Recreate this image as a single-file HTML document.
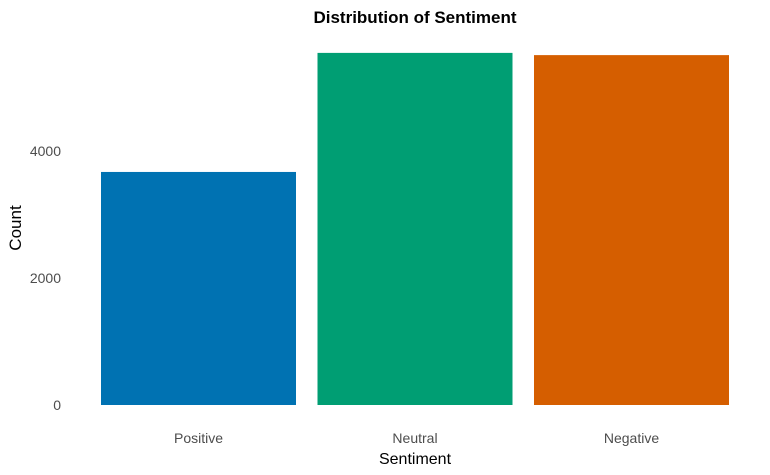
<!DOCTYPE html>
<html><head><meta charset="utf-8">
<style>
html,body{margin:0;padding:0;background:#fff;}
svg{display:block;font-family:"Liberation Sans",Arial,sans-serif;}
</style></head>
<body>
<svg id="chart" width="770" height="475" viewBox="0 0 770 475">
  <text x="415" y="23" text-anchor="middle" font-size="17" font-weight="bold" fill="#000">Distribution of Sentiment</text>
  <g id="bars"></g>
  <g id="yticks"></g>
  <g id="xticks"></g>
  <text x="415" y="464" text-anchor="middle" font-size="16" fill="#000">Sentiment</text>
  <text transform="translate(21,228) rotate(-90)" text-anchor="middle" font-size="17" fill="#000">Count</text>
</svg>
<script>
const categories = ["Positive", "Neutral", "Negative"];
const counts = [3670, 5545, 5510];
const colors = ["#0072B2", "#009E73", "#D55E00"];
const yTicks = [0, 2000, 4000];

const ns = "http://www.w3.org/2000/svg";
function yScale(v){ return 405 - v * (127 / 2000); }
function xCenter(i){ return 198.5 + i * 216.5; }
const barW = 195;

const bars = document.getElementById("bars");
categories.forEach((c, i) => {
  const r = document.createElementNS(ns, "rect");
  r.setAttribute("x", xCenter(i) - barW / 2);
  r.setAttribute("y", yScale(counts[i]));
  r.setAttribute("width", barW);
  r.setAttribute("height", yScale(0) - yScale(counts[i]));
  r.setAttribute("fill", colors[i]);
  
  
  bars.appendChild(r);

  const t = document.createElementNS(ns, "text");
  t.setAttribute("x", xCenter(i));
  t.setAttribute("y", 443);
  t.setAttribute("text-anchor", "middle");
  t.setAttribute("font-size", "14");
  t.setAttribute("fill", "#4d4d4d");
  t.textContent = c;
  
  
  document.getElementById("xticks").appendChild(t);
});

yTicks.forEach(v => {
  const t = document.createElementNS(ns, "text");
  t.setAttribute("x", 61);
  t.setAttribute("y", yScale(v) + 5);
  t.setAttribute("text-anchor", "end");
  t.setAttribute("font-size", "14");
  t.setAttribute("fill", "#4d4d4d");
  t.textContent = v;
  
  
  document.getElementById("yticks").appendChild(t);
});
</script>
</body></html>
